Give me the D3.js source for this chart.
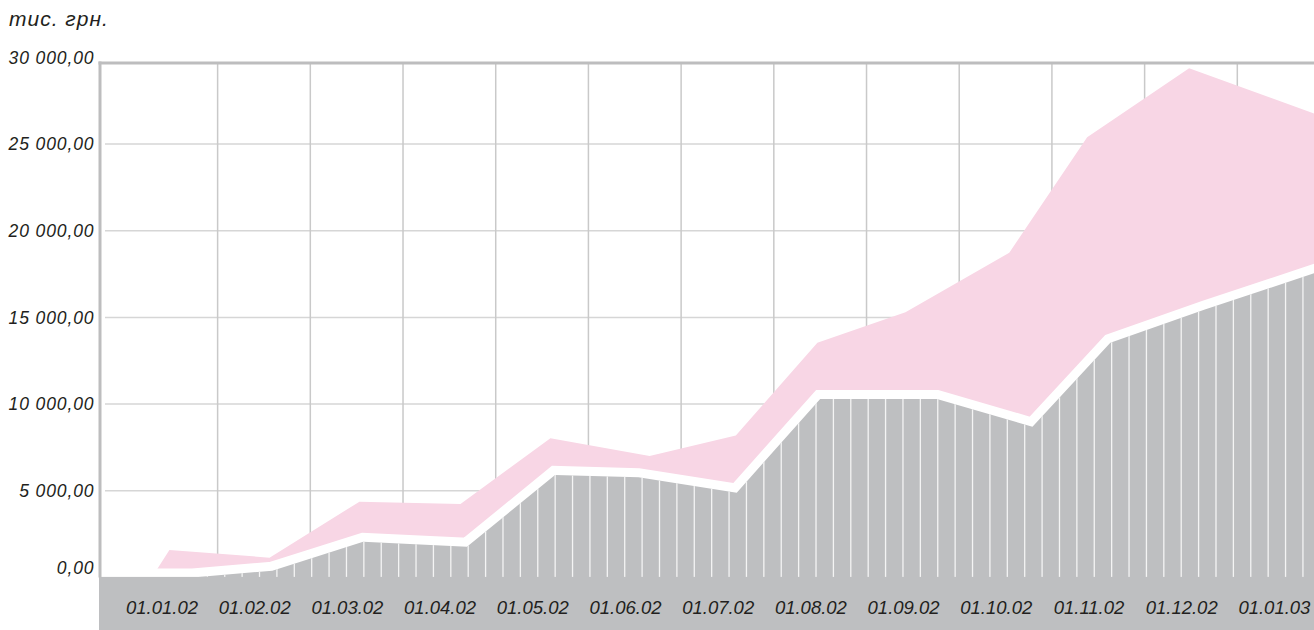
<!DOCTYPE html>
<html>
<head>
<meta charset="utf-8">
<script src="https://cdn.jsdelivr.net/npm/d3@7"></script>
<style>
  body { margin: 0; background: #fff; }
  svg { display: block; font-family: "Liberation Sans", Arial, sans-serif; font-style: italic; }
</style>
</head>
<body>
<svg width="1314" height="630"></svg>
<script>
'use strict';

// month labels along the bottom (index 0 = 01.01.02)
const monthLabels = ["01.01.02", "01.02.02", "01.03.02", "01.04.02", "01.05.02", "01.06.02",
  "01.07.02", "01.08.02", "01.09.02", "01.10.02", "01.11.02", "01.12.02", "01.01.03"];
const yTicks = [0, 5000, 10000, 15000, 20000, 25000, 30000];

// grey series (positions in month units)
const grayX = [-0.67, 0.33, 1.19, 2.17, 3.29, 4.24, 5.14, 6.20, 7.10, 8.36, 9.39, 10.23, 11.25, 12.5];
const grayValues = [0, 0, 390, 2060, 1770, 5910, 5780, 4890, 10290, 10290, 8690, 13540, 15450, 17680];

// pink series
const pinkX = [-0.11, 0.08, 1.16, 2.13, 3.22, 4.19, 5.26, 6.19, 7.07, 8.02, 9.14, 9.98, 11.08, 12.5];
const pinkValues = [0, 1580, 1140, 4370, 4230, 8030, 7000, 8180, 13540, 15290, 18730, 25390, 29370, 26630];

const width = 1314, height = 630;
const plotLeft = 100, plotTop = 63;

let svg = d3.select("svg");

let x = d3.scaleLinear().domain([0, 12]).range([162, 1274.4]);
let y = d3.scaleLinear().domain([0, 30000]).range([577.4, 57.4]);

let fmt = d3.formatLocale({decimal: ",", thousands: " ", grouping: [3], currency: ["", ""]}).format(",.2f");

let gray = grayX.map((d, i) => ({x: d, v: grayValues[i]}));
let pink = pinkX.map((d, i) => ({x: d, v: pinkValues[i]}));

// grid
let grid = svg.append("g");
grid.selectAll("line.h")
  .data(yTicks.filter(d => d > 0 && d < 30000))
  .join("line")
    .attr("class", "h")
    .attr("x1", plotLeft + 5).attr("x2", width)
    .attr("y1", d => y(d)).attr("y2", d => y(d))
    .attr("stroke", "#d6d6d6")
    .attr("stroke-width", 1.5);

grid.selectAll("line.v")
  .data(d3.range(12).map(i => i + 0.6))
  .join("line")
    .attr("class", "v")
    .attr("x1", d => x(d)).attr("x2", d => x(d))
    .attr("y1", plotTop).attr("y2", y(0))
    .attr("stroke", "#c9c9c9")
    .attr("stroke-width", 1.5);

// pink area
let area = d3.area()
  .x(d => x(d.x))
  .y0(y(0))
  .y1(d => y(d.v));

svg.append("path")
  .datum(pink)
  .attr("d", area)
  .attr("fill", "#f8d6e5");

// white band above the grey area
svg.append("path")
  .datum(gray)
  .attr("d", d3.line().x(d => x(d.x)).y(d => y(d.v)))
  .attr("fill", "none")
  .attr("stroke", "#fff")
  .attr("stroke-width", 18)
  .attr("stroke-linejoin", "miter");

svg.append("clipPath")
  .attr("id", "grayClip")
  .append("path")
  .datum(gray)
  .attr("d", area);

svg.append("path")
  .datum(gray)
  .attr("d", area)
  .attr("fill", "#bebfc1");

// thin white hatching in the grey area
svg.append("g")
  .attr("clip-path", "url(#grayClip)")
  .selectAll("line")
  .data(d3.range(x.invert(103), 12.5, 0.1876))
  .join("line")
    .attr("x1", d => x(d)).attr("x2", d => x(d))
    .attr("y1", y(0)).attr("y2", y(30000))
    .attr("stroke", "#f4f4f4")
    .attr("stroke-width", 1.3);

// bottom band
svg.append("rect")
  .attr("x", plotLeft - 1)
  .attr("y", y(0) - 0.5)
  .attr("width", width - plotLeft + 1)
  .attr("height", height - y(0) + 0.5)
  .attr("fill", "#bebfc1");

// frame
svg.append("line")
  .attr("x1", plotLeft).attr("x2", plotLeft)
  .attr("y1", plotTop - 1.5).attr("y2", y(0))
  .attr("stroke", "#bdbdbe")
  .attr("stroke-width", 3);
svg.append("line")
  .attr("x1", plotLeft - 1.5).attr("x2", width)
  .attr("y1", plotTop).attr("y2", plotTop)
  .attr("stroke", "#bdbdbe")
  .attr("stroke-width", 3);

// y labels
svg.append("g")
  .selectAll("text")
  .data(yTicks)
  .join("text")
    .attr("x", 94.5)
    .attr("y", d => d === 0 ? y(d) - 3 : y(d) + 6.3)
    .attr("text-anchor", "end")
    .attr("font-size", 17.5)
    .attr("letter-spacing", 0.9)
    .attr("fill", "#231f20")
    .text(d => fmt(d));

// x labels
svg.append("g")
  .selectAll("text")
  .data(monthLabels)
  .join("text")
    .attr("x", (d, i) => x(i))
    .attr("y", 613.5)
    .attr("text-anchor", "middle")
    .attr("font-size", 18.5)
    .attr("fill", "#231f20")
    .text(d => d);

// unit title
svg.append("text")
  .attr("x", 9)
  .attr("y", 26)
  .attr("font-size", 21)
  .attr("letter-spacing", 1)
  .attr("fill", "#231f20")
  .text("тис. грн.");
</script>
</body>
</html>
